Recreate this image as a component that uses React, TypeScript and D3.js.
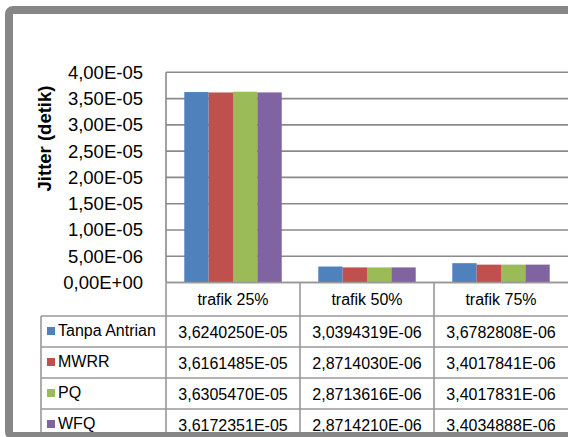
import React from "react";
import * as d3 from "d3";

const categories = ["trafik 25%", "trafik 50%", "trafik 75%"];
const seriesNames = ["Tanpa Antrian", "MWRR", "PQ", "WFQ"];
const tanpaAntrian = [3.624025e-5, 3.0394319e-6, 3.6782808e-6];
const mwrr = [3.6161485e-5, 2.871403e-6, 3.4017841e-6];
const pq = [3.630547e-5, 2.8713616e-6, 3.4017831e-6];
const wfq = [3.6172351e-5, 2.871421e-6, 3.4034888e-6];
const yTicks = [0, 5e-6, 1e-5, 1.5e-5, 2e-5, 2.5e-5, 3e-5, 3.5e-5, 4e-5];
const colors = ["#4F81BD", "#C0504D", "#9BBB59", "#8064A2"];

const seriesValues = [tanpaAntrian, mwrr, pq, wfq];

function fmtExp(v: number, digits: number): string {
  const s = v.toExponential(digits);
  const [mant, exp] = s.split("e");
  const sign = exp[0] === "-" ? "-" : "+";
  const num = exp.replace(/^[+-]/, "");
  return mant.replace(".", ",") + "E" + sign + num.padStart(2, "0");
}

const FONT = "Liberation Sans, Arial, Helvetica, sans-serif";
const GRID = "#8a8a8a";
const TABLE = "#999999";

export default function App() {
  const W = 568;
  const H = 437;
  const plotLeft = 166;
  const plotRight = 568;
  const plotTop = 72.3;
  const plotBottom = 282.5;
  const headerBottom = 316;
  const rowH = 31;
  const legendLeft = 41;

  const y = d3.scaleLinear().domain([0, 4e-5]).range([plotBottom, plotTop]);
  const x = d3.scaleBand<string>().domain(categories).range([plotLeft, plotRight]).padding(0);
  const bw = x.bandwidth();
  const gap = (bw * 1.5) / 5.5;
  const xs = d3.scaleBand<string>().domain(seriesNames).range([gap / 2, bw - gap / 2]).padding(0);

  return (
    <svg
      width={W}
      height={H}
      style={{ position: "absolute", left: 0, top: 0, background: "#fff", fontFamily: FONT }}
    >
      <rect x={0} y={0} width={W} height={H} fill="#fff" />
      {yTicks.map((t) => (
        <line
          key={"g" + t}
          x1={plotLeft}
          x2={plotRight}
          y1={y(t)}
          y2={y(t)}
          stroke={GRID}
          strokeWidth={1.6}
        />
      ))}
      {seriesValues.map((vals, si) =>
        vals.map((v, ci) => (
          <rect
            key={"b" + si + "-" + ci}
            x={(x(categories[ci]) as number) + (xs(seriesNames[si]) as number)}
            y={y(v)}
            width={xs.bandwidth()}
            height={plotBottom - y(v)}
            fill={colors[si]}
          />
        ))
      )}
      <line x1={plotLeft} x2={plotLeft} y1={plotTop} y2={plotBottom} stroke={GRID} strokeWidth={1.6} />
      {yTicks.map((t) => (
        <text
          key={"t" + t}
          x={143}
          y={y(t)}
          textAnchor="end"
          dominantBaseline="central"
          fontSize={18.5}
          fill="#000"
        >
          {fmtExp(t, 2)}
        </text>
      ))}
      <text
        transform={`translate(44,138.5) rotate(-90)`}
        textAnchor="middle"
        dominantBaseline="central"
        fontSize={18.5}
        fontWeight="bold"
        fill="#000"
      >
        Jitter (detik)
      </text>

      <line x1={plotLeft} x2={plotRight} y1={plotBottom} y2={plotBottom} stroke={TABLE} strokeWidth={1.6} />
      <line x1={legendLeft} x2={plotRight} y1={headerBottom} y2={headerBottom} stroke={TABLE} strokeWidth={1.6} />
      {seriesNames.map((s, i) => (
        <line
          key={"h" + s}
          x1={legendLeft}
          x2={plotRight}
          y1={headerBottom + rowH * (i + 1)}
          y2={headerBottom + rowH * (i + 1)}
          stroke={TABLE}
          strokeWidth={1.6}
        />
      ))}
      <line x1={legendLeft} x2={legendLeft} y1={headerBottom} y2={H} stroke={TABLE} strokeWidth={1.6} />
      {categories.map((c) => (
        <line
          key={"v" + c}
          x1={x(c) as number}
          x2={x(c) as number}
          y1={plotBottom}
          y2={H}
          stroke={TABLE}
          strokeWidth={1.6}
        />
      ))}
      {categories.map((c) => (
        <text
          key={"c" + c}
          x={(x(c) as number) + bw / 2}
          y={(plotBottom + headerBottom) / 2 + 0.5}
          textAnchor="middle"
          dominantBaseline="central"
          fontSize={16}
          fill="#000"
        >
          {c}
        </text>
      ))}
      {seriesNames.map((s, si) => (
        <g key={"r" + s}>
          <rect x={47} y={headerBottom + rowH * si + 11} width={8} height={8} fill={colors[si]} />
          <text
            x={58}
            y={headerBottom + rowH * si + 14.5}
            dominantBaseline="central"
            fontSize={16}
            fill="#000"
          >
            {s}
          </text>
          {seriesValues[si].map((v, ci) => (
            <text
              key={"v" + ci}
              x={(x(categories[ci]) as number) + bw / 2}
              y={headerBottom + rowH * si + 16}
              textAnchor="middle"
              dominantBaseline="central"
              fontSize={16}
              fill="#000"
            >
              {fmtExp(v, 7)}
            </text>
          ))}
        </g>
      ))}

      <rect x={9} y={10} width={W + 20} height={426} rx={4} fill="none" stroke="#868686" strokeWidth={8} />
    </svg>
  );
}
